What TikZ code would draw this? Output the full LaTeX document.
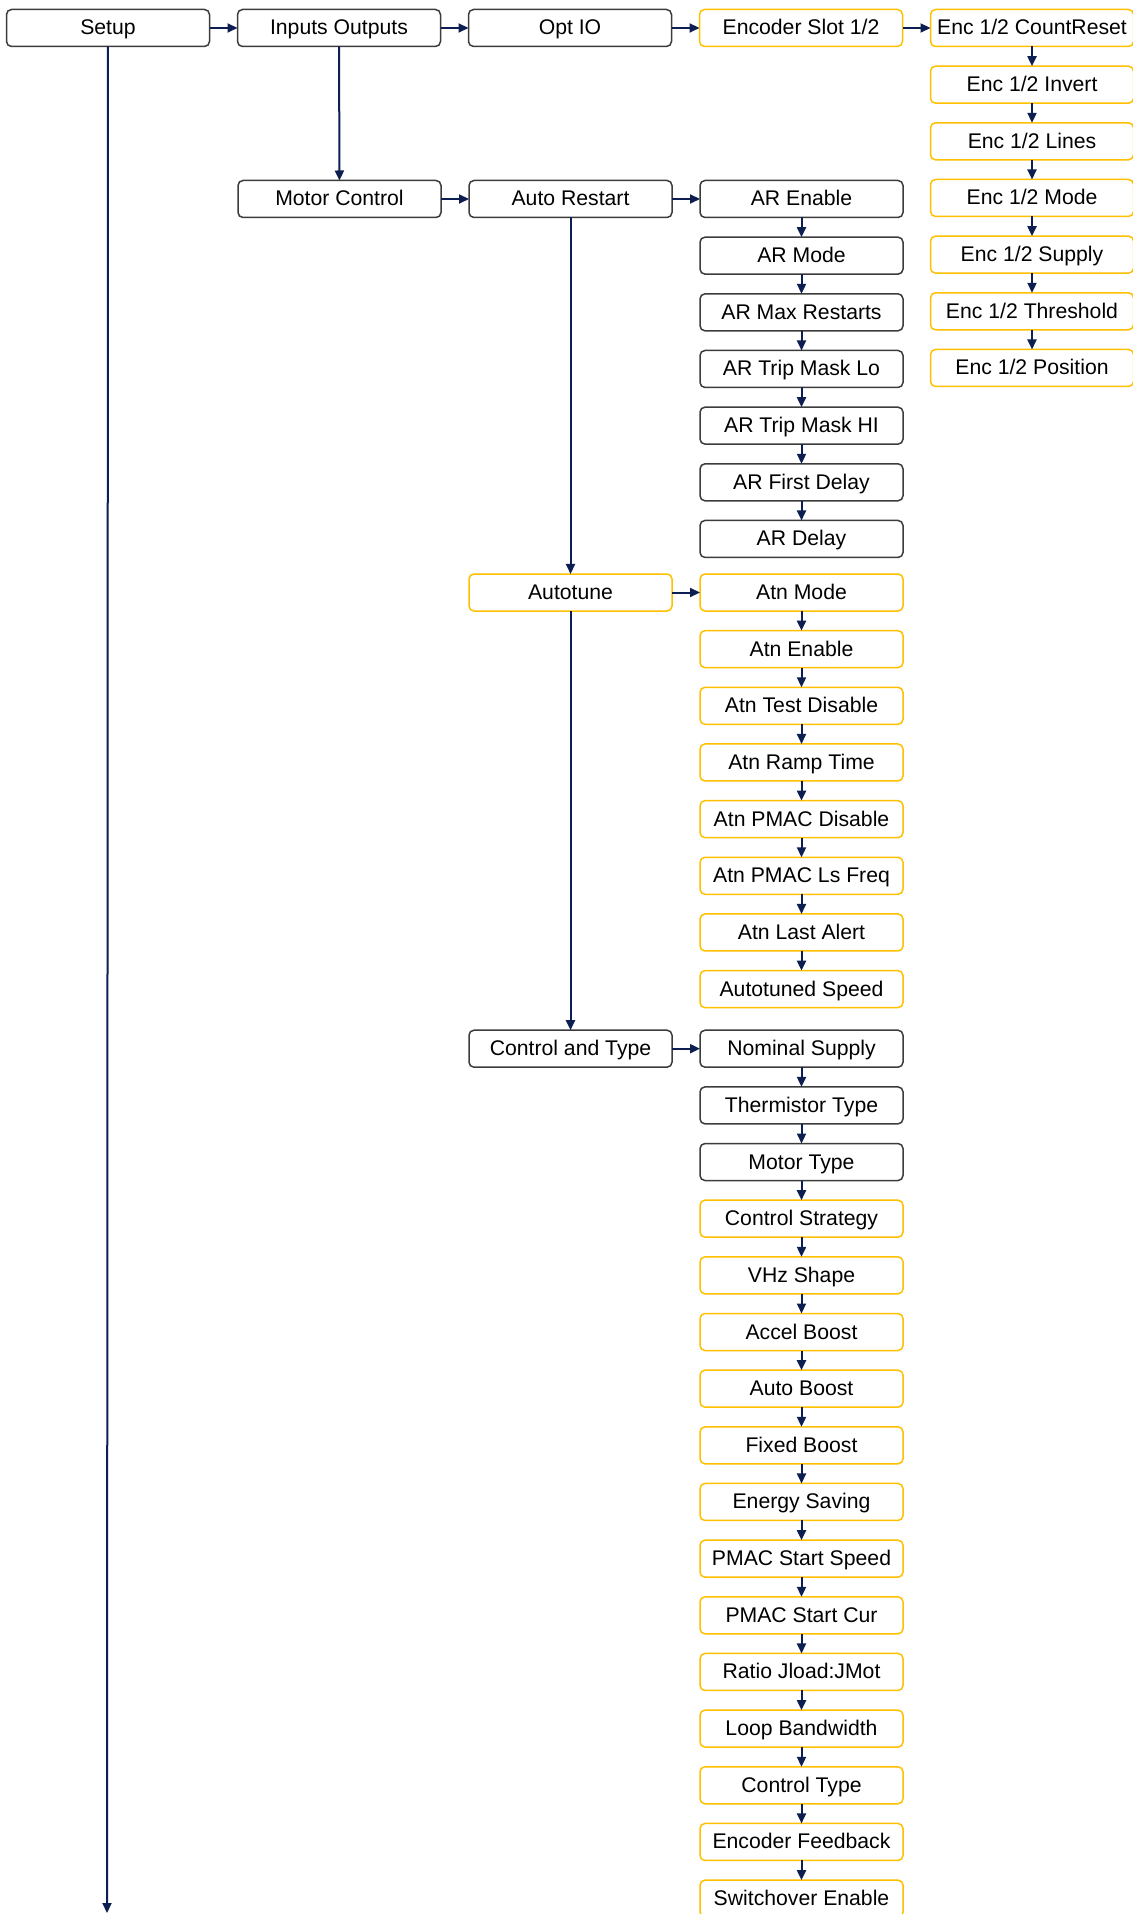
\documentclass[tikz,border=0pt]{standalone}
\usepackage{fontspec}
\setmainfont{Liberation Sans}
\usetikzlibrary{arrows.meta,positioning}
\definecolor{sotetkek}{RGB}{13,30,80}
\definecolor{sarga}{RGB}{255,192,0}
\definecolor{szurke}{RGB}{60,60,60}
\tikzset{
  fdob/.style={draw=szurke,line width=0.75pt,rounded corners=2.5pt,minimum width=101.5pt,
    minimum height=18.5pt,inner sep=0pt,outer sep=0pt,text height=9pt,text depth=2pt,
    font=\fontsize{10.6}{12}\selectfont},
  sdob/.style={fdob,draw=sarga},
  nyil/.style={draw=sotetkek,line width=1pt,-{Triangle[length=5pt,width=4.5pt]}},
}
\begin{document}
\begin{tikzpicture}[x=0.5pt,y=-0.5pt,node distance=9.83pt and 14pt]
  \fill[white] (0,0) rectangle (1133,1914);
  \useasboundingbox (0,0) rectangle (1133,1914);
  % top row
  \node[fdob] (setup) at (108,28) {Setup};
  \node[fdob,right=of setup] (io) {Inputs Outputs};
  \node[fdob,right=of io] (optio) {Opt IO};
  \node[sdob,right=of optio] (encslot) {Encoder Slot 1/2};
  \node[sdob,right=of encslot] (enc1) {Enc 1/2 CountReset};
  \node[sdob,below=of enc1] (enc2) {Enc 1/2 Invert};
  \node[sdob,below=of enc2] (enc3) {Enc 1/2 Lines};
  \node[sdob,below=of enc3] (enc4) {Enc 1/2 Mode};
  \node[sdob,below=of enc4] (enc5) {Enc 1/2 Supply};
  \node[sdob,below=of enc5] (enc6) {Enc 1/2 Threshold};
  \node[sdob,below=of enc6] (enc7) {Enc 1/2 Position};
  \coordinate (setupend) at (107,1913);
  % motor control
  \node[fdob] (motor) at (339.5,199) {Motor Control};
  \node[fdob,right=of motor] (autores) {Auto Restart};
  \node[fdob,right=of autores] (ar1) {AR Enable};
  \node[fdob,below=of ar1] (ar2) {AR Mode};
  \node[fdob,below=of ar2] (ar3) {AR Max Restarts};
  \node[fdob,below=of ar3] (ar4) {AR Trip Mask Lo};
  \node[fdob,below=of ar4] (ar5) {AR Trip Mask HI};
  \node[fdob,below=of ar5] (ar6) {AR First Delay};
  \node[fdob,below=of ar6] (ar7) {AR Delay};
  % autotune
  \node[sdob] (autotune) at (570.5,592.5) {Autotune};
  \node[sdob,right=of autotune] (atn1) {Atn Mode};
  \node[sdob,below=of atn1] (atn2) {Atn Enable};
  \node[sdob,below=of atn2] (atn3) {Atn Test Disable};
  \node[sdob,below=of atn3] (atn4) {Atn Ramp Time};
  \node[sdob,below=of atn4] (atn5) {Atn PMAC Disable};
  \node[sdob,below=of atn5] (atn6) {Atn PMAC Ls Freq};
  \node[sdob,below=of atn6] (atn7) {Atn Last Alert};
  \node[sdob,below=of atn7] (atn8) {Autotuned Speed};
  % control and type
  \node[fdob] (ctype) at (570.5,1048.7) {Control and Type};
  \node[fdob,right=of ctype] (ct1) {Nominal Supply};
  \node[fdob,below=of ct1] (ct2) {Thermistor Type};
  \node[fdob,below=of ct2] (ct3) {Motor Type};
  \node[sdob,below=of ct3] (ct4) {Control Strategy};
  \node[sdob,below=of ct4] (ct5) {VHz Shape};
  \node[sdob,below=of ct5] (ct6) {Accel Boost};
  \node[sdob,below=of ct6] (ct7) {Auto Boost};
  \node[sdob,below=of ct7] (ct8) {Fixed Boost};
  \node[sdob,below=of ct8] (ct9) {Energy Saving};
  \node[sdob,below=of ct9] (ct10) {PMAC Start Speed};
  \node[sdob,below=of ct10] (ct11) {PMAC Start Cur};
  \node[sdob,below=of ct11] (ct12) {Ratio Jload:JMot};
  \node[sdob,below=of ct12] (ct13) {Loop Bandwidth};
  \node[sdob,below=of ct13] (ct14) {Control Type};
  \node[sdob,below=of ct14] (ct15) {Encoder Feedback};
  \node[sdob,below=of ct15] (ct16) {Switchover Enable};
  % connectors
  \draw[nyil] (setup) -- (io);
  \draw[nyil] (io) -- (optio);
  \draw[nyil] (optio) -- (encslot);
  \draw[nyil] (encslot) -- (enc1);
  \draw[nyil] (setup) -- (setupend);
  \draw[nyil] (io) -- (motor);
  \draw[nyil] (motor) -- (autores);
  \draw[nyil] (autores) -- (ar1);
  \draw[nyil] (autores) -- (autotune);
  \draw[nyil] (autotune) -- (atn1);
  \draw[nyil] (autotune) -- (ctype);
  \draw[nyil] (ctype) -- (ct1);
  \foreach \i [evaluate=\i as \j using int(\i+1)] in {1,...,6} {
    \draw[nyil] (enc\i) -- (enc\j);
    \draw[nyil] (ar\i) -- (ar\j);
  }
  \foreach \i [evaluate=\i as \j using int(\i+1)] in {1,...,7}
    \draw[nyil] (atn\i) -- (atn\j);
  \foreach \i [evaluate=\i as \j using int(\i+1)] in {1,...,15}
    \draw[nyil] (ct\i) -- (ct\j);
\end{tikzpicture}
\end{document}
